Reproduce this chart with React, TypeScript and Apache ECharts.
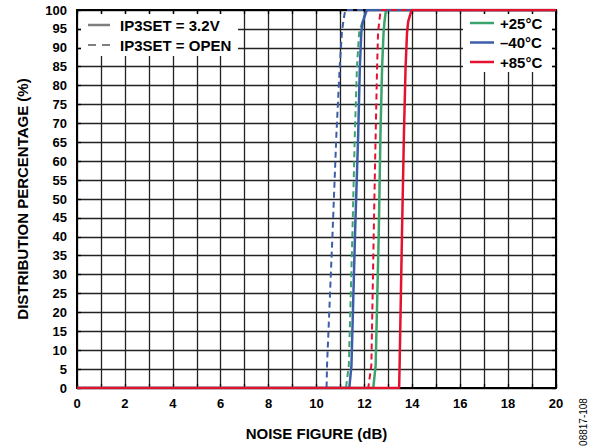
import React, { useEffect, useRef } from "react";
import * as echarts from "echarts";

// Distribution percentage levels (shared by all curves)
const pctLevels = [0, 0, 6, 41, 67, 85, 94, 97, 100, 100];

// Noise figure (dB) for each curve at the percentage levels above
const nf25Solid = [0, 12.37, 12.47, 12.6, 12.67, 12.74, 12.8, 12.84, 12.9, 20];
const nf25Dashed = [0, 11.23, 11.35, 11.5, 11.6, 11.69, 11.78, 11.92, 12.08, 20];
const nfM40Solid = [0, 11.37, 11.46, 11.61, 11.74, 11.81, 11.87, 11.94, 12.1, 20];
const nfM40Dashed = [0, 10.42, 10.44, 10.67, 10.83, 10.97, 11.06, 11.12, 11.2, 20];
const nf85Solid = [0, 13.45, 13.47, 13.57, 13.65, 13.72, 13.78, 13.83, 13.97, 20];
const nf85Dashed = [0, 12.16, 12.29, 12.39, 12.47, 12.53, 12.57, 12.62, 12.68, 20];

const tempLabels = ["+25°C", "–40°C", "+85°C"];
const tempColors = ["#3BA46B", "#3C5DA8", "#E4112F"];
const setLabels = ["IP3SET = 3.2V", "IP3SET = OPEN"];
const xTitle = "NOISE FIGURE (dB)";
const yTitle = "DISTRIBUTION PERCENTAGE (%)";
const figId = "08817-108";

const FONT = "Arial, 'Liberation Sans', Helvetica, sans-serif";

function pairs(xs: number[]) {
  return xs.map((x, i) => [x, pctLevels[i]]);
}

export default function App() {
  const ref = useRef<HTMLDivElement>(null);
  useEffect(() => {
    document.body.style.margin = "0";
    const chart = echarts.init(ref.current!, null, { renderer: "svg" });
    const gridL = 77, gridR = 41, gridT = 10, gridB = 60;
    const W = 597;
    const plotRight = W - gridR;

    const mkSeries = (name: string, xs: number[], color: string, dashed: boolean) => ({
      name,
      type: "line",
      data: pairs(xs),
      showSymbol: false,
      symbol: "none",
      smooth: false,
      lineStyle: { color, width: dashed ? 2 : 2.5, type: dashed ? [6, 4] : "solid" },
      z: 3,
    });

    const series = [
      mkSeries("25s", nf25Solid, tempColors[0], false),
      mkSeries("25d", nf25Dashed, tempColors[0], true),
      mkSeries("m40s", nfM40Solid, tempColors[1], false),
      mkSeries("m40d", nfM40Dashed, tempColors[1], true),
      mkSeries("85s", nf85Solid, tempColors[2], false),
      mkSeries("85d", nf85Dashed, tempColors[2], true),
    ];

    const labelFont = { fontFamily: FONT, fontWeight: "bold" as const, fontSize: 13, color: "#000" };

    const graphic: any[] = [];
    // left legend box
    graphic.push({ type: "rect", z: 50, shape: { x: 81, y: 14, width: 157, height: 42 }, style: { fill: "#fff" } });
    graphic.push({ type: "line", z: 51, shape: { x1: 88, y1: 25, x2: 110, y2: 25 }, style: { stroke: "#7f7f7f", lineWidth: 2.5 } });
    graphic.push({ type: "line", z: 51, shape: { x1: 88, y1: 45, x2: 110, y2: 45 }, style: { stroke: "#7f7f7f", lineWidth: 2, lineDash: [8, 6] } });
    setLabels.forEach((t, i) => {
      graphic.push({
        type: "text", z: 51, x: 120, y: 25 + i * 20,
        style: { text: t, fontFamily: FONT, fontWeight: "bold", fontSize: 15, fill: "#000", verticalAlign: "middle" },
      });
    });
    // right legend box
    graphic.push({ type: "rect", z: 50, shape: { x: 463, y: 14, width: plotRight - 4 - 463, height: 58 }, style: { fill: "#fff" } });
    tempLabels.forEach((t, i) => {
      const y = 23 + i * 19.5;
      graphic.push({ type: "line", z: 51, shape: { x1: 470, y1: y, x2: 494, y2: y }, style: { stroke: tempColors[i], lineWidth: 2.5 } });
      graphic.push({
        type: "text", z: 51, x: 500, y,
        style: { text: t, fontFamily: FONT, fontWeight: "bold", fontSize: 15, fill: "#000", verticalAlign: "middle" },
      });
    });
    // figure id
    graphic.push({
      type: "text", z: 51, x: 583, y: 422, rotation: Math.PI / 2,
      style: { text: figId, fontFamily: FONT, fontSize: 10, fill: "#000", align: "center", verticalAlign: "middle" },
    });

    const option: any = {
      animation: false,
      backgroundColor: "#fff",
      grid: { left: gridL, right: gridR, top: gridT, bottom: gridB, containLabel: false },
      xAxis: [
        {
          type: "value", min: 0, max: 20, interval: 1, position: "bottom",
          name: xTitle, nameLocation: "middle", nameGap: 38,
          nameTextStyle: { fontFamily: FONT, fontWeight: "bold", fontSize: 15, color: "#000" },
          axisLine: { show: true, onZero: false, lineStyle: { color: "#000", width: 2 } },
          axisTick: { show: true, inside: true, length: 4, lineStyle: { color: "#000", width: 1.3 } },
          axisLabel: { ...labelFont, margin: 9, formatter: (v: number) => (v % 2 === 0 ? String(v) : "") },
          splitLine: { show: true, lineStyle: { color: "#222", width: 1.3 } },
        },
        {
          type: "value", min: 0, max: 20, interval: 1, position: "top",
          axisLine: { show: true, onZero: false, lineStyle: { color: "#000", width: 2 } },
          axisTick: { show: true, inside: true, length: 4, lineStyle: { color: "#000", width: 1.3 } },
          axisLabel: { show: false },
          splitLine: { show: false },
        },
      ],
      yAxis: [
        {
          type: "value", min: 0, max: 100, interval: 5, position: "left",
          name: yTitle, nameLocation: "middle", nameGap: 47,
          nameTextStyle: { fontFamily: FONT, fontWeight: "bold", fontSize: 15, color: "#000" },
          axisLine: { show: true, onZero: false, lineStyle: { color: "#000", width: 2 } },
          axisTick: { show: true, inside: true, length: 4, lineStyle: { color: "#000", width: 1.3 } },
          axisLabel: { ...labelFont, margin: 10 },
          splitLine: { show: true, lineStyle: { color: "#222", width: 1.3 } },
        },
        {
          type: "value", min: 0, max: 100, interval: 5, position: "right",
          axisLine: { show: true, onZero: false, lineStyle: { color: "#000", width: 2 } },
          axisTick: { show: true, inside: true, length: 4, lineStyle: { color: "#000", width: 1.3 } },
          axisLabel: { show: false },
          splitLine: { show: false },
        },
      ],
      series,
      graphic,
    };
    chart.setOption(option);
    return () => chart.dispose();
  }, []);
  return <div ref={ref} style={{ width: 597, height: 448 }} />;
}
